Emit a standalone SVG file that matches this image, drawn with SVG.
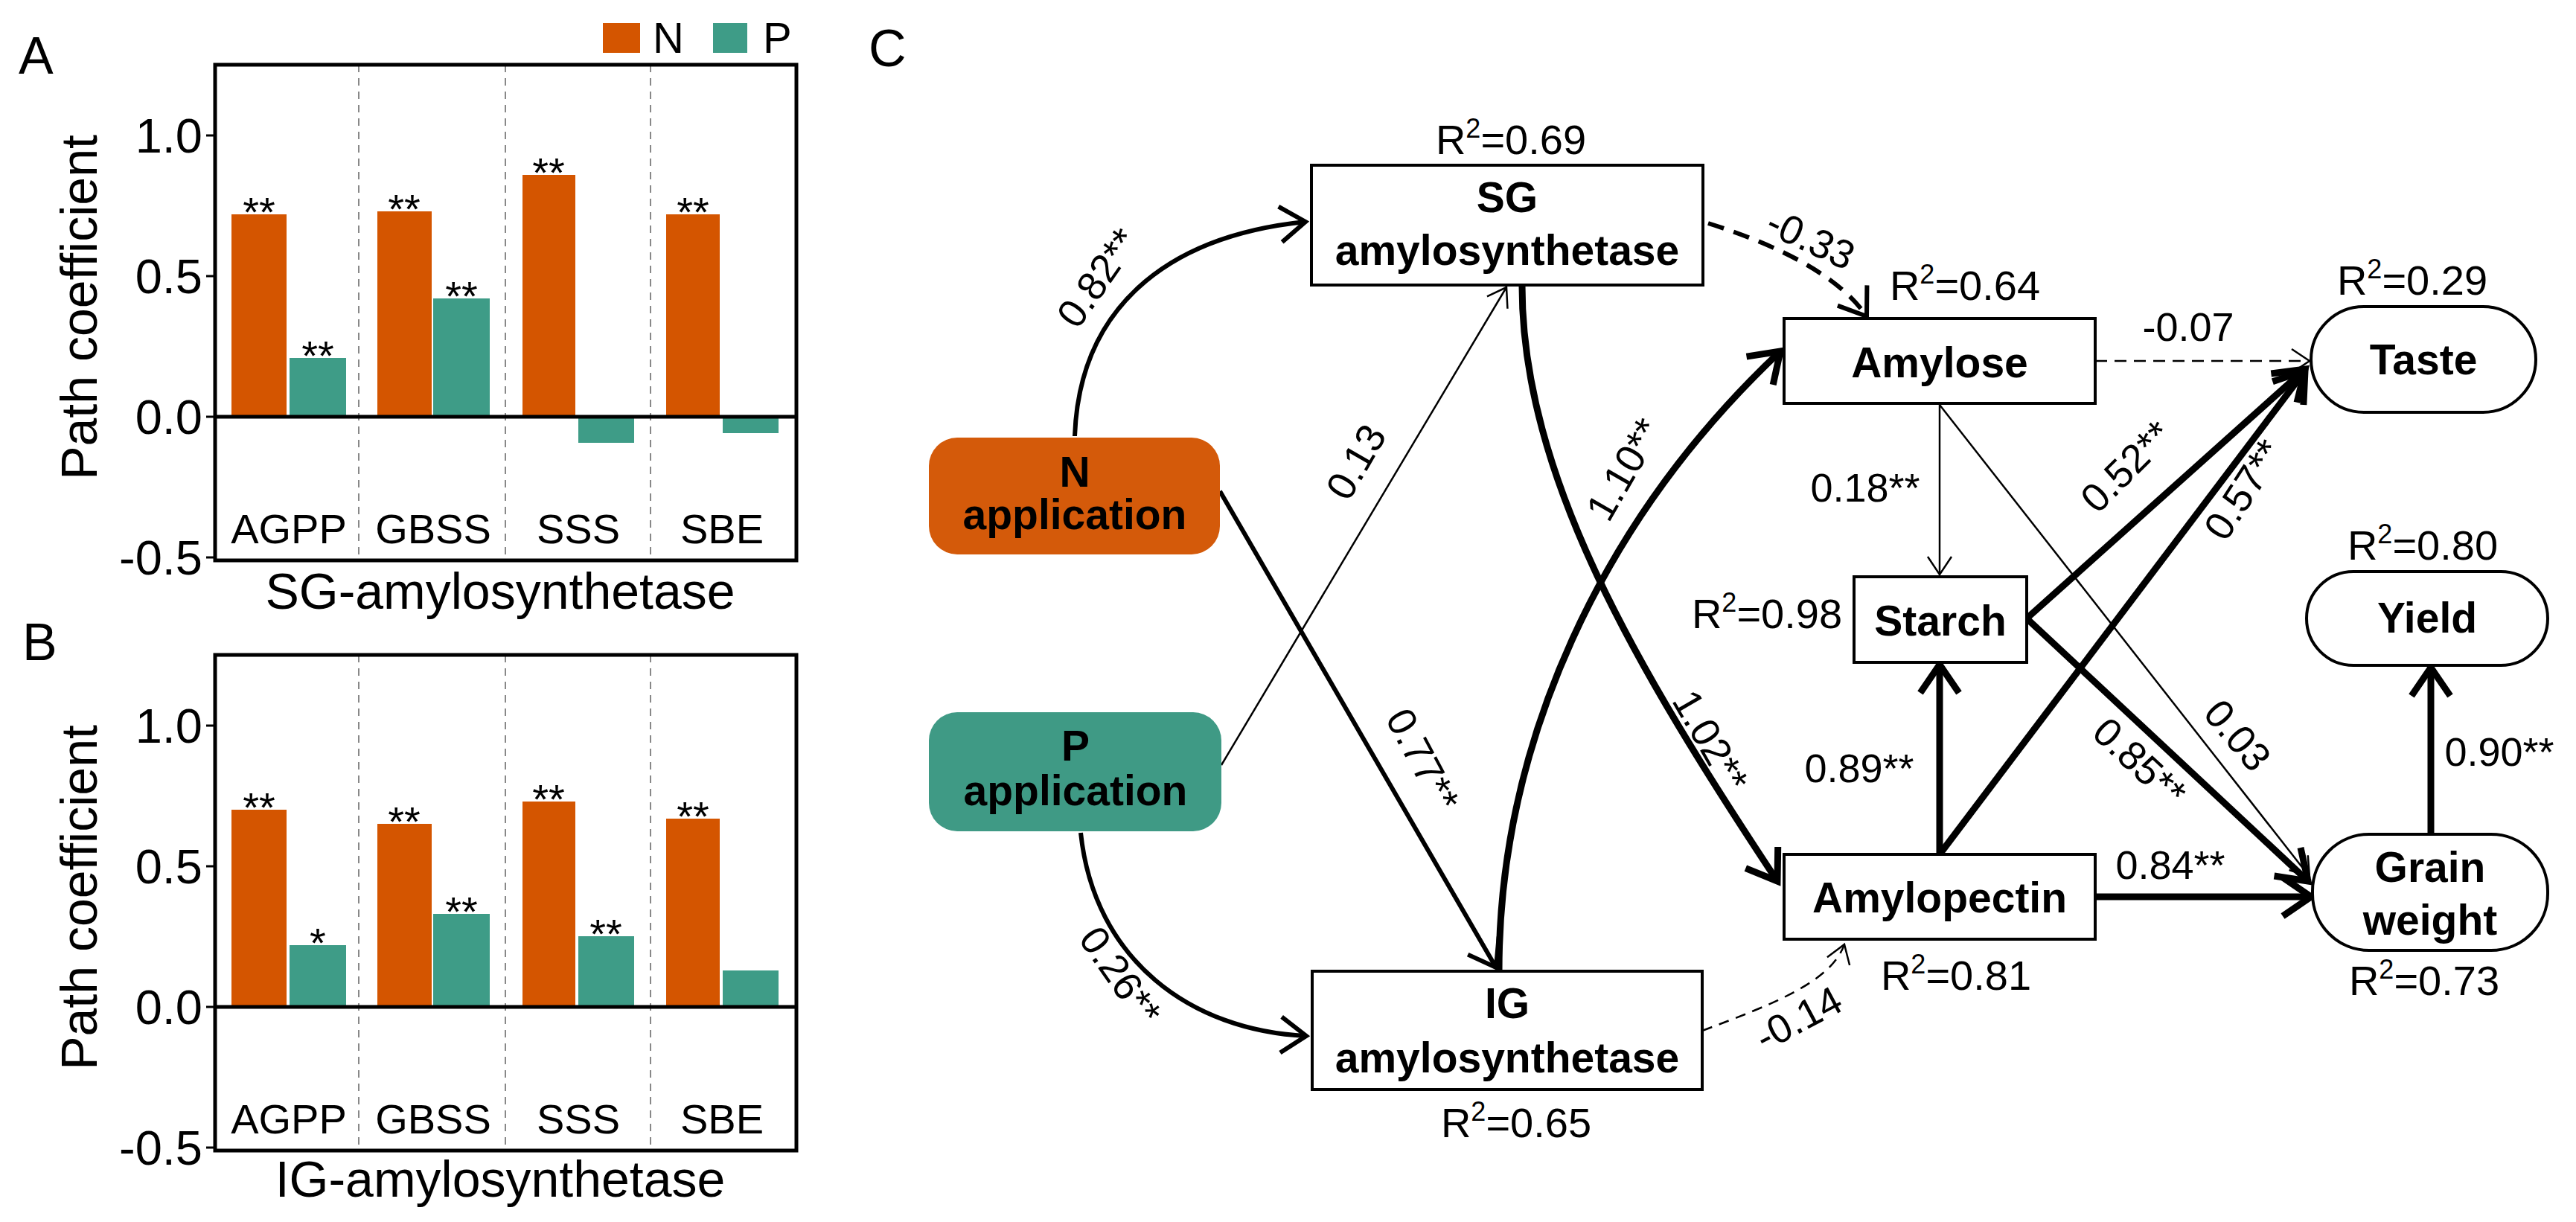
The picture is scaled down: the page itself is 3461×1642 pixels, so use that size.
<svg xmlns="http://www.w3.org/2000/svg" width="3461" height="1642" viewBox="0 0 3461 1642">
<style>
text{font-family:"Liberation Sans",Arial,sans-serif;fill:#000}
.n{fill:#D45500}.p{fill:#3E9C87}
.tick{font-size:65px;text-anchor:end}
.cat{font-size:56px;text-anchor:middle}
.ttl{font-size:68px;text-anchor:middle}
.st{font-size:56px;text-anchor:middle}
.div{stroke:#888;stroke-width:2;stroke-dasharray:10,8}
.frame{fill:none;stroke:#000;stroke-width:5}
.nb{fill:#fff;stroke:#000;stroke-width:4}
.lb{font-size:57px;font-weight:bold;text-anchor:middle}
.r2{font-size:56px;text-anchor:middle}
.el{font-size:54px;text-anchor:middle}
.e{fill:none;stroke:#000;stroke-linecap:butt}
.k{stroke-width:9}.m{stroke-width:6}.t{stroke-width:2.5}
.d{stroke-dasharray:22,14}
</style>
<defs>
<marker id="aK" markerUnits="userSpaceOnUse" markerWidth="80" markerHeight="80" viewBox="-50 -40 60 80" refX="0" refY="0" orient="auto"><path d="M-38,-26 L0,0 L-38,26" fill="none" stroke="#000" stroke-width="9"/></marker>
<marker id="aM" markerUnits="userSpaceOnUse" markerWidth="80" markerHeight="80" viewBox="-50 -40 60 80" refX="0" refY="0" orient="auto"><path d="M-34,-24 L0,0 L-34,24" fill="none" stroke="#000" stroke-width="6"/></marker>
<marker id="aT" markerUnits="userSpaceOnUse" markerWidth="80" markerHeight="80" viewBox="-50 -40 60 80" refX="0" refY="0" orient="auto"><path d="M-24,-16 L0,0 L-24,16" fill="none" stroke="#000" stroke-width="2.5"/></marker>
</defs>
<rect width="3461" height="1642" fill="#fff"/>

<g id="panelA">
<text x="25" y="99" style="font-size:70px">A</text>
<rect x="810" y="31" width="50" height="40" class="n"/><text x="877" y="71" style="font-size:58px">N</text>
<rect x="958" y="31" width="46" height="40" class="p"/><text x="1025" y="71" style="font-size:58px">P</text>
<line x1="482" y1="87" x2="482" y2="753" class="div"/><line x1="679" y1="87" x2="679" y2="753" class="div"/><line x1="874" y1="87" x2="874" y2="753" class="div"/>
<rect x="311" y="288" width="74" height="272" class="n"/><rect x="389" y="481" width="76" height="79" class="p"/>
<rect x="507" y="284" width="73" height="276" class="n"/><rect x="582" y="401" width="76" height="159" class="p"/>
<rect x="702" y="235" width="71" height="325" class="n"/><rect x="777" y="560" width="75" height="35" class="p"/>
<rect x="895" y="288" width="72" height="272" class="n"/><rect x="971" y="560" width="75" height="22" class="p"/>
<text x="348" y="304" class="st">**</text><text x="427" y="497" class="st">**</text>
<text x="543" y="300" class="st">**</text><text x="620" y="417" class="st">**</text>
<text x="737" y="251" class="st">**</text><text x="931" y="304" class="st">**</text>
<line x1="289" y1="560" x2="1070" y2="560" stroke="#000" stroke-width="5"/>
<rect x="289" y="87" width="781" height="666" class="frame"/>
<g stroke="#000" stroke-width="3"><line x1="277" y1="182" x2="289" y2="182"/><line x1="277" y1="371" x2="289" y2="371"/><line x1="277" y1="560" x2="289" y2="560"/><line x1="277" y1="749" x2="289" y2="749"/></g>
<text x="272" y="205" class="tick">1.0</text><text x="272" y="394" class="tick">0.5</text><text x="272" y="583" class="tick">0.0</text><text x="272" y="772" class="tick">-0.5</text>
<text x="388" y="730" class="cat">AGPP</text><text x="582" y="730" class="cat">GBSS</text><text x="777" y="730" class="cat">SSS</text><text x="970" y="730" class="cat">SBE</text>
<text transform="translate(130,413) rotate(-90)" class="ttl">Path coefficient</text>
<text x="672" y="818" class="ttl">SG-amylosynthetase</text>
</g>

<g id="panelB">
<text x="30" y="887" style="font-size:70px">B</text>
<line x1="482" y1="880" x2="482" y2="1546" class="div"/><line x1="679" y1="880" x2="679" y2="1546" class="div"/><line x1="874" y1="880" x2="874" y2="1546" class="div"/>
<rect x="311" y="1088" width="74" height="265" class="n"/><rect x="389" y="1270" width="76" height="83" class="p"/>
<rect x="507" y="1107" width="73" height="246" class="n"/><rect x="582" y="1228" width="76" height="125" class="p"/>
<rect x="702" y="1077" width="71" height="276" class="n"/><rect x="777" y="1258" width="75" height="95" class="p"/>
<rect x="895" y="1100" width="72" height="253" class="n"/><rect x="971" y="1304" width="75" height="49" class="p"/>
<text x="348" y="1104" class="st">**</text><text x="427" y="1286" class="st">*</text>
<text x="543" y="1123" class="st">**</text><text x="620" y="1244" class="st">**</text>
<text x="737" y="1093" class="st">**</text><text x="814" y="1274" class="st">**</text>
<text x="931" y="1116" class="st">**</text>
<line x1="289" y1="1353" x2="1070" y2="1353" stroke="#000" stroke-width="5"/>
<rect x="289" y="880" width="781" height="666" class="frame"/>
<g stroke="#000" stroke-width="3"><line x1="277" y1="975" x2="289" y2="975"/><line x1="277" y1="1164" x2="289" y2="1164"/><line x1="277" y1="1353" x2="289" y2="1353"/><line x1="277" y1="1542" x2="289" y2="1542"/></g>
<text x="272" y="998" class="tick">1.0</text><text x="272" y="1187" class="tick">0.5</text><text x="272" y="1376" class="tick">0.0</text><text x="272" y="1565" class="tick">-0.5</text>
<text x="388" y="1523" class="cat">AGPP</text><text x="582" y="1523" class="cat">GBSS</text><text x="777" y="1523" class="cat">SSS</text><text x="970" y="1523" class="cat">SBE</text>
<text transform="translate(130,1206) rotate(-90)" class="ttl">Path coefficient</text>
<text x="672" y="1608" class="ttl">IG-amylosynthetase</text>
</g>

<text x="1167" y="89" style="font-size:70px">C</text>

<g id="connectors">
<path class="e m" marker-end="url(#aM)" d="M1444,586 C1450,420 1560,318 1754,298"/>
<path class="e t" marker-end="url(#aT)" d="M1641,1028 L2024,386"/>
<path class="e m" marker-end="url(#aM)" d="M1639,660 L2010,1300"/>
<path class="e m" marker-end="url(#aM)" d="M1452,1119 C1470,1290 1600,1385 1755,1392"/>
<path class="e k" marker-end="url(#aK)" d="M2045,384 C2045,640 2200,900 2388,1184"/>
<path class="e k" marker-end="url(#aK)" d="M2014,1305 C2014,1000 2150,700 2392,472"/>
<path class="e m d" marker-end="url(#aM)" d="M2295,300 C2390,330 2470,370 2508,425"/>
<path class="e t d" marker-end="url(#aT)" d="M2287,1385 C2380,1350 2460,1320 2478,1269" style="stroke-dasharray:14,10"/>
<path class="e t d" marker-end="url(#aT)" d="M2815,485 L3103,485" style="stroke-dasharray:16,10"/>
<path class="e t" marker-end="url(#aT)" d="M2606,544 L2606,772"/>
<path class="e t" marker-end="url(#aT)" d="M2606,544 L3103,1178"/>
<path class="e k" marker-end="url(#aK)" d="M2723,831 L3097,496"/>
<path class="e k" marker-end="url(#aK)" d="M2606,1148 L3097,498"/>
<path class="e k" marker-end="url(#aK)" d="M2606,1148 L2606,893"/>
<path class="e k" marker-end="url(#aK)" d="M2723,831 L3101,1184"/>
<path class="e k" marker-end="url(#aK)" d="M2815,1205 L3105,1205"/>
<path class="e k" marker-end="url(#aK)" d="M3266,1123 L3266,897"/>
</g>

<g id="edgeLabels">
<text class="el" transform="translate(1490,384) rotate(-55)">0.82**</text>
<text class="el" transform="translate(1838,630) rotate(-60)">0.13</text>
<text class="el" transform="translate(2198,640) rotate(-60)">1.10**</text>
<text class="el" transform="translate(1895,1030) rotate(62)">0.77**</text>
<text class="el" transform="translate(2282,1005) rotate(60)">1.02**</text>
<text class="el" transform="translate(1490,1322) rotate(55)">0.26**</text>
<text class="el" transform="translate(2425,1385) rotate(-28)">-0.14</text>
<text class="el" transform="translate(2425,338) rotate(25)">-0.33</text>
<text class="el" x="2940" y="458">-0.07</text>
<text class="el" x="2506" y="674">0.18**</text>
<text class="el" transform="translate(2870,640) rotate(-45)">0.52**</text>
<text class="el" transform="translate(3030,668) rotate(-57)">0.57**</text>
<text class="el" x="2498" y="1051">0.89**</text>
<text class="el" transform="translate(2992,1000) rotate(50)">0.03</text>
<text class="el" transform="translate(2862,1038) rotate(43)">0.85**</text>
<text class="el" x="3358" y="1029">0.90**</text>
<text class="el" x="2916" y="1181">0.84**</text>
</g>

<g id="N_application"><rect x="1248" y="588" width="391" height="157" rx="38" fill="#D45A0A"/><text class="lb" x="1444" y="654">N</text><text class="lb" x="1444" y="711">application</text></g>
<g id="P_application"><rect x="1248" y="957" width="393" height="160" rx="38" fill="#3F9A85"/><text class="lb" x="1445" y="1022">P</text><text class="lb" x="1445" y="1082">application</text></g>
<g id="SG"><rect x="1762" y="222" width="526" height="161" class="nb"/><text class="lb" x="2025" y="285">SG</text><text class="lb" x="2025" y="356">amylosynthetase</text><text class="r2" x="2030" y="207">R<tspan font-size="36" dy="-22">2</tspan><tspan dy="22">=0.69</tspan></text></g>
<g id="IG"><rect x="1763" y="1305" width="524" height="159" class="nb"/><text class="lb" x="2025" y="1368">IG</text><text class="lb" x="2025" y="1441">amylosynthetase</text><text class="r2" x="2037" y="1528">R<tspan font-size="36" dy="-22">2</tspan><tspan dy="22">=0.65</tspan></text></g>
<g id="Amylose"><rect x="2397" y="428" width="418" height="114" class="nb"/><text class="lb" x="2606" y="507">Amylose</text><text class="r2" x="2640" y="403">R<tspan font-size="36" dy="-22">2</tspan><tspan dy="22">=0.64</tspan></text></g>
<g id="Starch"><rect x="2491" y="775" width="232" height="115" class="nb"/><text class="lb" x="2607" y="854">Starch</text><text class="r2" x="2374" y="844">R<tspan font-size="36" dy="-22">2</tspan><tspan dy="22">=0.98</tspan></text></g>
<g id="Amylopectin"><rect x="2397" y="1148" width="418" height="114" class="nb"/><text class="lb" x="2606" y="1226">Amylopectin</text><text class="r2" x="2628" y="1330">R<tspan font-size="36" dy="-22">2</tspan><tspan dy="22">=0.81</tspan></text></g>
<g id="Taste"><rect x="3105" y="412" width="302" height="142" rx="71" class="nb"/><text class="lb" x="3256" y="503">Taste</text><text class="r2" x="3241" y="396">R<tspan font-size="36" dy="-22">2</tspan><tspan dy="22">=0.29</tspan></text></g>
<g id="Yield"><rect x="3099" y="768" width="324" height="126" rx="63" class="nb"/><text class="lb" x="3261" y="850">Yield</text><text class="r2" x="3255" y="752">R<tspan font-size="36" dy="-22">2</tspan><tspan dy="22">=0.80</tspan></text></g>
<g id="GrainWeight"><rect x="3107" y="1121" width="316" height="156" rx="76" class="nb"/><text class="lb" x="3265" y="1185">Grain</text><text class="lb" x="3265" y="1256">weight</text><text class="r2" x="3257" y="1337">R<tspan font-size="36" dy="-22">2</tspan><tspan dy="22">=0.73</tspan></text></g>
</svg>
